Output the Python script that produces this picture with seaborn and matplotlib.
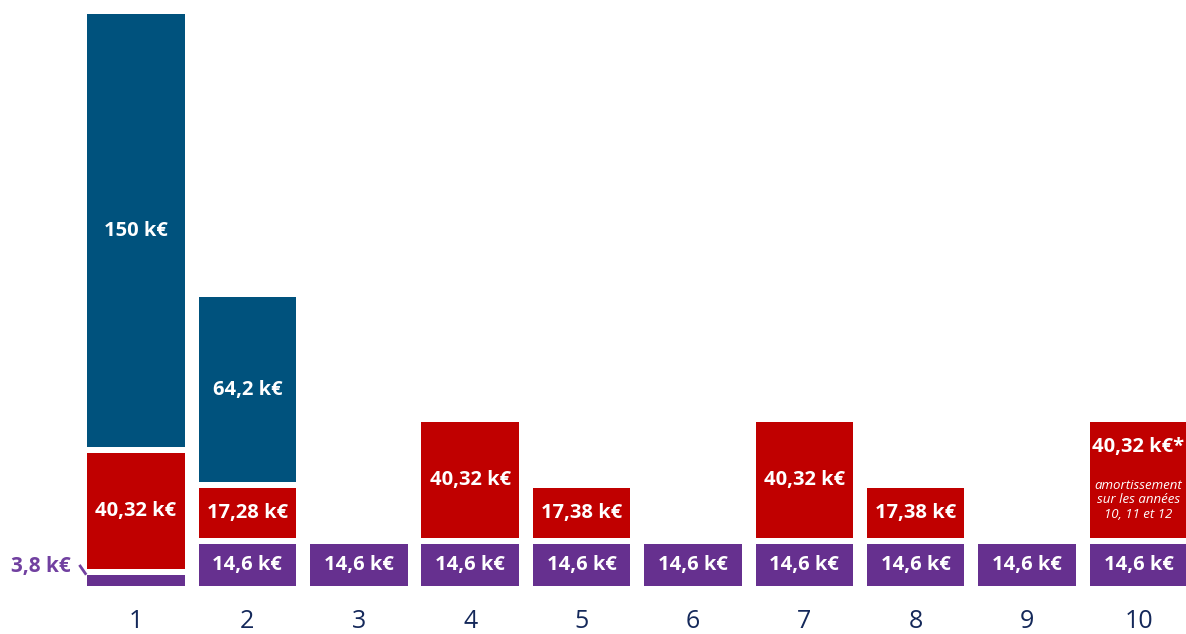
import matplotlib
matplotlib.use('Agg')
import matplotlib.pyplot as plt
import pandas as pd
import seaborn as sns

# Data (k€ per year)
years = ['1', '2', '3', '4', '5', '6', '7', '8', '9', '10']
purple_vals = [3.8, 14.6, 14.6, 14.6, 14.6, 14.6, 14.6, 14.6, 14.6, 14.6]
red_vals = [40.32, 17.28, 0, 40.32, 17.38, 0, 40.32, 17.38, 0, 40.32]
blue_vals = [150, 64.2, 0, 0, 0, 0, 0, 0, 0, 0]
note_text = "amortissement\nsur les années\n10, 11 et 12"

PURPLE = '#66308f'
PURPLE_TXT = '#7140a0'
RED = '#c00000'
BLUE = '#00527d'
NAVY = '#14285a'
GAP = 2.0  # white space between stacked segments, in k€ units
WIDTH = 0.875

sns.set_style('white')
plt.rcParams['font.family'] = ['Open Sans', 'DejaVu Sans']


def fmt(v):
    return f"{v:g}".replace('.', ',') + " k€"


df = pd.DataFrame({'year': years, 'purple': purple_vals, 'red': red_vals, 'blue': blue_vals})
df['red_bottom'] = df['purple'] + GAP
df['blue_bottom'] = df['red_bottom'] + df['red'] + GAP

fig = plt.figure(figsize=(11.86, 6.34), dpi=100)
ax = fig.add_axes([0, 48 / 634, 1, 572 / 634])

sns.barplot(data=df, x='year', y='purple', order=years, color=PURPLE, width=WIDTH,
            saturation=1, linewidth=0, ax=ax)
sns.barplot(data=df, x='year', y='red', order=years, color=RED, width=WIDTH,
            saturation=1, linewidth=0, bottom=df['red_bottom'].tolist(), ax=ax)
sns.barplot(data=df, x='year', y='blue', order=years, color=BLUE, width=WIDTH,
            saturation=1, linewidth=0, bottom=df['blue_bottom'].tolist(), ax=ax)

# Segment labels
lbl = dict(color='white', fontsize=14.5, fontweight='bold', ha='center', va='center')
for i, row in df.iterrows():
    if i > 0:
        ax.text(i, row['purple'] / 2, fmt(row['purple']), **lbl)
    if row['red'] > 0:
        if i == len(df) - 1:
            ax.text(i, row['red_bottom'] + row['red'] * 0.78, fmt(row['red']) + '*', **lbl)
            ax.text(i, row['red_bottom'] + row['red'] * 0.33, note_text, color='white',
                    fontsize=9.5, fontstyle='italic', ha='center', va='center', linespacing=1.15)
        else:
            ax.text(i, row['red_bottom'] + row['red'] / 2, fmt(row['red']), **lbl)
    if row['blue'] > 0:
        ax.text(i, row['blue_bottom'] + row['blue'] / 2, fmt(row['blue']), **lbl)

# Small first-year purple amount, outside the bar
ax.plot([-0.508, -0.447], [7.3, 3.9], color=PURPLE_TXT, lw=2, solid_capstyle='butt')
ax.text(-0.59, 6.6, fmt(purple_vals[0]), color=PURPLE_TXT, fontsize=15, fontweight='bold',
        ha='right', va='center')

total_first = df.loc[0, 'blue_bottom'] + df.loc[0, 'blue']
ax.set_ylim(0, total_first)
ax.set_xlim(-1.221, 9.426)
ax.set_xlabel('')
ax.set_ylabel('')
ax.set_yticks([])
ax.tick_params(axis='x', length=0, pad=16.5, labelsize=18, labelcolor=NAVY)
sns.despine(ax=ax, left=True, bottom=True)

fig.savefig('out.png', dpi=100)
